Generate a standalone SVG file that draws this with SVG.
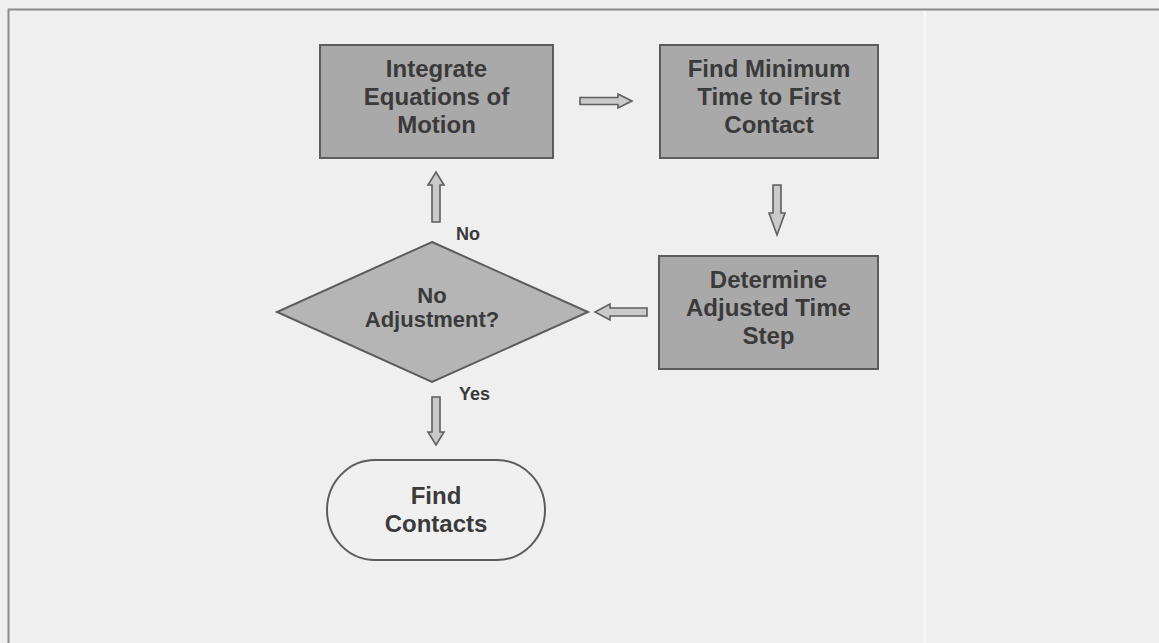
<svg xmlns="http://www.w3.org/2000/svg" width="1159" height="643" viewBox="0 0 1159 643">
<style>
.box{fill:#a9a9a9;stroke:#5c5c5c;stroke-width:2}
.dia{fill:#b5b5b5;stroke:#5c5c5c;stroke-width:2}
.term{fill:#f0f0f0;stroke:#5c5c5c;stroke-width:2}
.t{font-family:"Liberation Sans",Arial,sans-serif;font-weight:bold;fill:#3a3a3a;text-anchor:middle}
.big{font-size:24px}
.mid{font-size:22px}
.lbl{font-size:18px;text-anchor:start}
.arr{fill:#cacaca;stroke:#5e5e5e;stroke-width:1.6;stroke-linejoin:miter}
</style>
<rect width="1159" height="643" fill="#efefef"/>
<line x1="925" y1="10" x2="925" y2="643" stroke="#f8f8f8" stroke-width="3"/>
<path d="M8.5,643 V9.5 H1159" fill="none" stroke="#8a8a8a" stroke-width="2"/>

<g id="integrate">
<rect class="box" x="320" y="45" width="233" height="113"/>
<text class="t big" x="436.5" y="77">Integrate</text>
<text class="t big" x="436.5" y="105">Equations of</text>
<text class="t big" x="436.5" y="133">Motion</text>
</g>

<g id="findmin">
<rect class="box" x="660" y="45" width="218" height="113"/>
<text class="t big" x="769" y="77">Find Minimum</text>
<text class="t big" x="769" y="105">Time to First</text>
<text class="t big" x="769" y="133">Contact</text>
</g>

<g id="determine">
<rect class="box" x="659" y="256" width="219" height="113"/>
<text class="t big" x="768.5" y="288">Determine</text>
<text class="t big" x="768.5" y="316">Adjusted Time</text>
<text class="t big" x="768.5" y="344">Step</text>
</g>

<g id="decision">
<polygon class="dia" points="432,242 588,312 432,382 277,312"/>
<text class="t mid" x="432" y="303">No</text>
<text class="t mid" x="432" y="327">Adjustment?</text>
</g>

<g id="findcontacts">
<rect class="term" x="327" y="460" width="218" height="100" rx="48" ry="50"/>
<text class="t big" x="436" y="504">Find</text>
<text class="t big" x="436" y="532">Contacts</text>
</g>

<g id="connectors">
<polygon class="arr" points="580,97.5 618,97.5 618,94 632,101 618,108 618,104.5 580,104.5"/>
<polygon class="arr" points="773,185 781,185 781,213 785,213 777,235 769,213 773,213"/>
<polygon class="arr" points="647,308 610,308 610,304 595,312 610,320 610,316 647,316"/>
<polygon class="arr" points="432,222 432,185 428,185 436,172 444,185 440,185 440,222"/>
<polygon class="arr" points="432,397 440,397 440,432 444,432 436,445 428,432 432,432"/>
<text class="t lbl" x="456" y="240">No</text>
<text class="t lbl" x="459" y="400">Yes</text>
</g>
</svg>
